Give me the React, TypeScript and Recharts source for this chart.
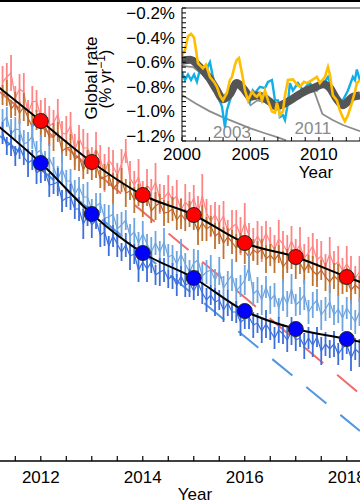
import React from 'react'
import {
  ComposedChart,
  Line,
  XAxis,
  YAxis,
  ErrorBar,
  ReferenceLine,
  ReferenceDot,
} from 'recharts'

const FONT = '"Liberation Sans", Arial, Helvetica, sans-serif'

// ---- main panel: monthly series (index units), first month Apr 2011
const MONTH0 = 2011.25

const pinkVals = [
  37.9, 38.4, 38.8, 36.3, 37.2, 36.9, 34.8, 35.9, 36.0, 34.4,
  34.9, 33.5, 33.8, 34.7, 32.8, 32.7, 33.5, 31.1, 32.3, 31.3,
  31.3, 30.2, 31.2, 30.2, 28.8, 30.1, 29.5, 28.6, 29.7, 31.0,
  28.3, 27.6, 28.4, 26.7, 27.6, 27.0, 27.9, 26.2, 26.3, 26.9,
  26.1, 26.5, 25.1, 25.9, 25.4, 26.3, 24.8, 26.5, 24.8, 24.0,
  24.6, 23.8, 24.5, 22.9, 23.4, 23.7, 22.5, 23.8, 22.5, 21.7,
  22.5, 21.7, 22.8, 21.8, 21.2, 22.2, 21.7, 20.9, 22.0, 21.0,
  21.6, 20.3, 20.8, 21.5, 20.1, 20.5, 19.5, 20.7, 19.6, 19.9,
  19.0, 19.7, 19.0, 18.3, 18.9,
]
const pinkErr = [
  1.6, 1.4, 1.8, 1.2, 1.5, 1.9, 1.3, 1.6, 1.1, 1.7,
  1.4, 2.0, 1.3, 1.5, 1.2, 1.8, 1.4, 1.6, 1.3, 1.9,
  1.5, 1.2, 1.7, 1.4, 1.9, 1.3, 1.6, 1.2, 1.5, 1.2,
  1.7, 1.4, 1.8, 1.3, 1.6, 1.2, 1.9, 1.5, 1.3, 1.7,
  1.4, 1.6, 1.2, 1.8, 1.5, 1.3, 1.7, 2.2, 1.4, 1.6,
  1.3, 1.8, 1.5, 1.2, 1.7, 1.4, 1.9, 2.0, 1.3, 1.6,
  1.5, 1.8, 1.2, 1.6, 1.4, 1.9, 1.3, 1.7, 1.5, 1.2,
  1.8, 1.4, 1.6, 1.3, 2.1, 1.5, 1.2, 1.7, 1.4, 1.6,
  1.3, 1.8, 1.5, 1.2, 1.6,
]
const brownVals = [
  36.6, 36.8, 35.2, 35.7, 34.8, 35.4, 34.3, 33.4, 34.1, 33.2,
  33.5, 32.4, 32.4, 32.9, 31.0, 31.3, 31.4, 30.2, 30.5, 29.1,
  29.9, 29.1, 29.7, 28.2, 28.4, 28.6, 27.2, 27.7, 28.1, 26.8,
  27.0, 26.1, 26.6, 25.9, 26.5, 25.0, 25.5, 25.8, 24.8, 24.9,
  25.2, 24.1, 24.7, 24.1, 24.7, 24.0, 23.0, 23.8, 23.2, 23.5,
  22.5, 22.8, 21.8, 22.4, 21.9, 21.3, 21.8, 21.0, 20.4, 21.1,
  20.8, 21.2, 20.2, 20.6, 20.1, 20.7, 19.4, 20.0, 20.2, 19.6,
  19.8, 19.0, 19.7, 19.0, 18.6, 19.1, 18.4, 17.9, 18.5, 18.1,
  17.7, 18.1, 17.1, 17.6, 17.2,
]
const brownErr = [
  1.0, 1.3, 0.9, 1.2, 1.1, 1.4, 0.8, 1.2, 1.0, 1.3,
  1.1, 0.9, 1.4, 1.0, 1.2, 0.8, 1.3, 1.1, 1.5, 0.9,
  1.2, 1.0, 1.4, 0.9, 1.3, 1.1, 1.6, 1.0, 1.2, 1.4,
  0.9, 1.3, 1.1, 1.5, 1.0, 1.2, 1.4, 0.9, 1.3, 1.1,
  1.2, 1.0, 1.5, 1.1, 1.3, 0.9, 1.4, 1.8, 1.2, 1.0,
  1.3, 1.1, 1.6, 0.9, 1.2, 1.4, 1.0, 1.3, 1.5, 1.1,
  1.2, 1.0, 1.4, 1.1, 1.3, 0.9, 1.6, 1.2, 1.0, 1.4,
  1.1, 1.3, 0.9, 1.5, 1.2, 1.0, 1.4, 1.1, 1.3, 1.6,
  1.0, 1.2, 1.4, 0.9, 1.3,
]
const lightBlueVals = [
  33.9, 34.4, 32.7, 33.2, 33.1, 31.7, 31.9, 32.5, 30.8, 31.1,
  29.9, 30.3, 29.4, 28.2, 29.2, 28.0, 28.0, 26.7, 27.4, 26.4,
  26.4, 25.1, 25.5, 25.8, 24.3, 24.4, 24.7, 23.2, 23.6, 24.1,
  22.5, 22.9, 21.8, 22.7, 21.7, 20.9, 21.8, 20.9, 21.9, 20.4,
  20.6, 19.7, 20.7, 19.7, 18.9, 19.8, 20.1, 18.5, 18.9, 19.1,
  18.1, 19.0, 17.3, 18.0, 18.6, 17.0, 17.5, 18.1, 19.4, 16.7,
  17.1, 16.1, 17.4, 16.1, 16.6, 15.3, 16.6, 15.7, 17.2, 15.6,
  16.0, 16.6, 14.9, 15.6, 16.1, 14.6, 15.2, 15.9, 14.6, 15.2,
  14.3, 15.3, 14.6, 13.9, 14.9,
]
const lightBlueErr = [
  1.3, 1.0, 1.5, 1.2, 1.1, 1.4, 1.0, 1.3, 1.2, 1.5,
  1.1, 1.4, 1.0, 1.3, 1.5, 1.1, 1.2, 1.4, 1.0, 1.3,
  1.5, 1.1, 1.3, 1.0, 1.4, 1.2, 1.1, 1.5, 1.3, 1.0,
  1.2, 1.4, 1.1, 1.3, 1.0, 1.5, 1.2, 1.1, 1.4, 1.3,
  1.0, 1.3, 1.5, 1.1, 1.2, 1.4, 1.0, 1.3, 1.2, 1.5,
  1.1, 1.4, 1.2, 1.0, 1.6, 1.3, 1.1, 1.5, 1.4, 1.2,
  1.3, 1.5, 1.1, 1.4, 1.2, 1.0, 1.6, 1.3, 1.5, 1.1,
  1.4, 1.5, 1.2, 1.3, 1.1, 1.5, 1.2, 1.6, 1.0, 1.4,
  1.3, 1.1, 1.5, 1.2, 1.4,
]
const blueVals = [
  32.8, 31.5, 31.8, 30.5, 31.4, 30.4, 29.8, 30.1, 28.8, 29.1,
  28.9, 27.6, 27.7, 27.9, 26.0, 26.3, 26.4, 25.2, 25.2, 23.7,
  24.5, 23.6, 24.1, 22.6, 22.9, 21.5, 22.5, 21.7, 20.9, 21.6,
  20.5, 20.7, 19.1, 19.9, 19.2, 19.9, 18.6, 18.9, 19.1, 18.2,
  18.5, 17.6, 18.5, 17.6, 17.8, 17.0, 17.8, 16.8, 16.1, 16.6,
  15.9, 16.1, 15.1, 15.8, 14.9, 14.9, 13.9, 14.2, 14.4, 13.6,
  13.8, 13.0, 13.7, 13.0, 12.3, 13.1, 12.7, 12.1, 13.0, 12.1,
  12.3, 11.5, 12.3, 11.6, 12.4, 11.0, 11.7, 11.2, 11.7, 10.7,
  11.3, 11.7, 10.3, 11.2, 10.8,
]
const blueErr = [
  1.1, 0.9, 1.3, 1.0, 1.2, 0.8, 1.4, 1.0, 1.1, 1.3,
  0.9, 1.2, 1.0, 1.4, 1.1, 0.9, 1.3, 1.0, 1.2, 1.5,
  1.0, 1.3, 0.9, 1.2, 1.4, 1.0, 1.1, 1.3, 0.9, 1.2,
  1.4, 1.0, 1.2, 0.9, 1.3, 1.1, 1.0, 1.4, 1.2, 0.9,
  1.3, 1.1, 1.0, 1.2, 1.4, 0.9, 1.3, 1.1, 1.2, 1.0,
  1.4, 1.0, 1.2, 1.3, 0.9, 1.1, 1.4, 1.0, 1.2, 1.3,
  1.0, 1.2, 1.4, 0.9, 1.1, 1.3, 1.0, 1.2, 1.4, 1.1,
  0.9, 1.3, 1.1, 1.2, 1.0, 1.4, 1.2, 0.9, 1.3, 1.1,
  1.2, 1.0, 1.3, 1.1, 1.4,
]

// annual fitted curves (black) and the big dots
const trendYears = [2011, 2012, 2013, 2014, 2015, 2016, 2017, 2018, 2019]
const redTrend = [38.1, 34.0, 29.9, 26.6, 24.6, 21.8, 20.4, 18.4, 16.5]
const blueTrend = [34.2, 29.8, 24.7, 20.8, 18.3, 15.0, 13.2, 12.2, 11.1]
const dotYears = [2012, 2013, 2014, 2015, 2016, 2017, 2018]

// early-period linear fits, extrapolated (dashed)
const fitYears = [2011.2, 2018.26]
const redFit = [36.9, 6.7]
const blueFit = [32.5, 3.0]

const mainTicks = [2011.5, 2012, 2012.5, 2013, 2013.5, 2014, 2014.5, 2015, 2015.5, 2016, 2016.5, 2017, 2017.5, 2018]

// ---- inset: global rate (% per yr)
const yellowRate: [number, number][] = [
  [2000.0, -0.55], [2000.22, -0.5], [2000.44, -0.39], [2000.66, -0.37], [2000.88, -0.4],
  [2001.02, -0.5], [2001.17, -0.61], [2001.53, -0.65], [2001.75, -0.62], [2002.04, -0.72],
  [2002.34, -0.76], [2002.55, -0.8], [2002.77, -0.87], [2002.99, -0.91], [2003.28, -0.85],
  [2003.5, -0.745], [2003.65, -0.72], [2003.87, -0.62], [2004.01, -0.58], [2004.16, -0.566],
  [2004.38, -0.69], [2004.6, -0.83], [2004.82, -0.91], [2005.11, -0.84], [2005.33, -0.87],
  [2005.47, -0.88], [2005.69, -0.85], [2005.84, -0.91], [2006.06, -0.83], [2006.28, -0.91],
  [2006.57, -1.0], [2006.79, -1.01], [2006.93, -0.93], [2007.15, -1.03], [2007.37, -1.0],
  [2007.52, -0.87], [2007.74, -0.745], [2008.1, -0.74], [2008.47, -0.79], [2008.61, -0.8],
  [2008.9, -0.76], [2009.12, -0.77], [2009.49, -0.745], [2009.85, -0.72], [2010.07, -0.77],
  [2010.44, -0.72], [2010.66, -0.64], [2010.8, -0.7], [2011.02, -0.87], [2011.31, -0.91],
  [2011.53, -0.99], [2011.75, -1.05], [2011.9, -1.08], [2012.12, -1.03], [2012.41, -0.93],
  [2012.63, -0.84], [2012.77, -0.77], [2012.99, -0.745],
]
const cyanRate: [number, number][] = [
  [2000.0, -0.68], [2000.22, -0.745], [2000.44, -0.7], [2000.66, -0.745], [2000.88, -0.7],
  [2001.09, -0.76], [2001.31, -0.66], [2001.53, -0.7], [2001.68, -0.72], [2001.9, -0.63],
  [2002.04, -0.6], [2002.26, -0.72], [2002.48, -0.83], [2002.63, -0.88], [2002.92, -0.96],
  [2003.14, -1.13], [2003.28, -0.99], [2003.5, -0.91], [2003.72, -0.83], [2003.87, -0.785],
  [2004.23, -0.77], [2004.6, -0.85], [2004.96, -0.92], [2005.18, -0.83], [2005.33, -0.85],
  [2005.69, -0.8], [2006.06, -0.81], [2006.28, -0.76], [2006.57, -0.745], [2006.79, -0.91],
  [2007.01, -0.91], [2007.15, -1.045], [2007.37, -1.03], [2007.52, -1.07], [2007.74, -0.93],
  [2007.88, -0.77], [2008.1, -0.83], [2008.47, -0.77], [2008.83, -0.83], [2009.12, -0.79],
  [2009.34, -0.77], [2009.63, -0.81], [2009.85, -0.83], [2010.07, -0.79], [2010.29, -0.785],
  [2010.66, -0.72], [2011.02, -0.83], [2011.39, -0.93], [2011.75, -0.91], [2012.12, -0.83],
  [2012.48, -0.72], [2012.63, -0.745], [2012.77, -0.66], [2012.99, -0.745],
]
const bandRate: [number, number][] = [
  [2000.0, -0.59], [2000.6, -0.58], [2001.3, -0.64], [2002.0, -0.73], [2002.5, -0.82],
  [2003.0, -0.9], [2003.5, -0.86], [2004.0, -0.77], [2004.45, -0.81], [2005.0, -0.88],
  [2005.5, -0.87], [2005.9, -0.88], [2006.4, -0.92], [2006.9, -0.96], [2007.4, -0.94],
  [2007.9, -0.91], [2008.6, -0.86], [2009.1, -0.83], [2009.6, -0.81], [2010.3, -0.78],
  [2010.8, -0.81], [2011.3, -0.9], [2011.75, -0.95], [2012.1, -0.92], [2012.5, -0.88],
  [2013.0, -0.87],
]
const grayTrack: [number, number][] = [
  [2000.0, -0.63], [2000.8, -0.64], [2001.5, -0.7], [2002.2, -0.78], [2003.0, -0.9],
  [2003.4, -0.88], [2004.0, -0.78], [2004.5, -0.85], [2005.0, -0.95], [2005.5, -0.91],
  [2006.2, -0.93], [2006.9, -0.97], [2007.6, -0.95], [2008.3, -0.88], [2009.0, -0.84],
  [2009.6, -0.82], [2010.3, -0.79], [2010.8, -0.82], [2011.4, -0.93], [2011.8, -0.97],
  [2012.3, -0.91], [2013.0, -0.89],
]
const proj2003: [number, number][] = [
  [2000.0, -0.867], [2001.0, -0.935], [2002.0, -0.997], [2003.0, -1.048], [2004.0, -1.093],
  [2005.0, -1.137], [2006.0, -1.175], [2007.0, -1.211], [2007.6, -1.235],
]
const proj2011: [number, number][] = [
  [2009.6, -0.82], [2010.25, -1.02], [2011.0, -1.07], [2011.75, -1.11], [2013.0, -1.16],
]

const insetYearTicks = [2000, 2001, 2002, 2003, 2004, 2005, 2006, 2007, 2008, 2009, 2010, 2011, 2012, 2013]
const insetRateTicks = Array.from({ length: 28 }, (_, i) => +(-1.24 + i * 0.04).toFixed(2))

const monthly = (vals: number[], errs: number[]) =>
  vals.map((v, i) => ({ t: MONTH0 + i / 12, v, e: errs[i] }))
const pairs = (years: number[], vals: number[]) => years.map((t, i) => ({ t, v: vals[i] }))
const pts = (arr: [number, number][]) => arr.map(([t, v]) => ({ t, v }))

const tickStyle = { fill: '#000', fontSize: 17, fontFamily: FONT }

function MainPanel() {
  const redDots = pairs(trendYears, redTrend).filter(d => dotYears.includes(d.t))
  const blueDots = pairs(trendYears, blueTrend).filter(d => dotYears.includes(d.t))
  return (
    <ComposedChart width={360} height={504} margin={{ top: 1, right: 0, bottom: 0, left: 0 }}>
      <XAxis
        type="number"
        dataKey="t"
        domain={[2011.2, 2018.26]}
        allowDataOverflow
        ticks={mainTicks}
        interval={0}
        height={43}
        tickSize={-5}
        tickMargin={15}
        tick={tickStyle}
        tickFormatter={(v: number) => (v % 2 === 0 ? String(v) : '')}
        axisLine={{ stroke: '#000', strokeWidth: 1.5 }}
        tickLine={{ stroke: '#000', strokeWidth: 1.2 }}
      />
      <YAxis hide width={0} type="number" domain={[0, 46]} allowDataOverflow />
      <ReferenceLine y={46} stroke="#000" strokeWidth={2} />

      <Line data={pairs(fitYears, redFit)} dataKey="v" stroke="#f26b6b" strokeWidth={2} strokeDasharray="26 18" dot={false} isAnimationActive={false} />
      <Line data={pairs(fitYears, blueFit)} dataKey="v" stroke="#4f97e0" strokeWidth={2} strokeDasharray="26 18" dot={false} isAnimationActive={false} />

      <Line data={monthly(pinkVals, pinkErr)} dataKey="v" stroke="#ff8585" strokeWidth={1.2} dot={false} isAnimationActive={false}>
        <ErrorBar dataKey="e" width={0} stroke="#ff8585" strokeWidth={1.8} direction="y" />
      </Line>
      <Line data={monthly(brownVals, brownErr)} dataKey="v" stroke="#b8662c" strokeWidth={1.2} dot={false} isAnimationActive={false}>
        <ErrorBar dataKey="e" width={0} stroke="#c0722f" strokeWidth={1.8} direction="y" />
      </Line>
      <Line data={monthly(lightBlueVals, lightBlueErr)} dataKey="v" stroke="#6ea5e0" strokeWidth={1.2} dot={false} isAnimationActive={false}>
        <ErrorBar dataKey="e" width={0} stroke="#6ea5e0" strokeWidth={1.8} direction="y" />
      </Line>
      <Line data={monthly(blueVals, blueErr)} dataKey="v" stroke="#3c6fdc" strokeWidth={1.2} dot={false} isAnimationActive={false}>
        <ErrorBar dataKey="e" width={0} stroke="#3c6fdc" strokeWidth={1.8} direction="y" />
      </Line>

      <Line data={pairs(trendYears, redTrend)} dataKey="v" type="monotone" stroke="#000" strokeWidth={2} dot={false} isAnimationActive={false} />
      <Line data={pairs(trendYears, blueTrend)} dataKey="v" type="monotone" stroke="#000" strokeWidth={2} dot={false} isAnimationActive={false} />
      <Line data={redDots} dataKey="v" stroke="none" dot={{ r: 7.5, fill: '#ff0000', stroke: '#222', strokeWidth: 1 }} isAnimationActive={false} />
      <Line data={blueDots} dataKey="v" stroke="none" dot={{ r: 7.5, fill: '#0000ff', stroke: '#222', strokeWidth: 1 }} isAnimationActive={false} />
    </ComposedChart>
  )
}

function InsetPanel() {
  return (
    <ComposedChart width={280} height={185} margin={{ top: 8, right: 0, bottom: 0, left: 0 }}>
      <XAxis
        type="number"
        dataKey="t"
        domain={[2000, 2013]}
        allowDataOverflow
        ticks={insetYearTicks}
        interval={0}
        height={44}
        tickSize={-4}
        tickMargin={11}
        tick={tickStyle}
        tickFormatter={(v: number) => (v % 5 === 0 ? String(v) : '')}
        axisLine={{ stroke: '#000' }}
        tickLine={{ stroke: '#000' }}
      />
      <YAxis
        type="number"
        domain={[-1.24, -0.16]}
        allowDataOverflow
        ticks={insetRateTicks}
        interval={0}
        width={102}
        tickSize={-4}
        tickMargin={11}
        tick={tickStyle}
        tickFormatter={(v: number) =>
          Math.round(Math.abs(v) * 100) % 20 === 0 ? `\u2212${Math.abs(v).toFixed(1)}%` : ''
        }
        axisLine={{ stroke: '#000' }}
        tickLine={{ stroke: '#000' }}
      />
      <ReferenceLine y={-0.16} stroke="#333" strokeWidth={1} />

      <Line data={pts(proj2003)} dataKey="v" stroke="#8c8c8c" strokeWidth={1.8} dot={false} isAnimationActive={false} />
      <Line data={pts(proj2011)} dataKey="v" stroke="#8c8c8c" strokeWidth={1.8} dot={false} isAnimationActive={false} />
      <Line data={pts(grayTrack)} dataKey="v" stroke="#8c8c8c" strokeWidth={1.6} dot={false} isAnimationActive={false} />
      <Line data={pts(cyanRate)} dataKey="v" stroke="#12aee8" strokeWidth={2.4} dot={false} isAnimationActive={false} />
      <Line data={pts(bandRate)} dataKey="v" type="monotone" stroke="#555" strokeWidth={8} dot={false} isAnimationActive={false} />
      <Line data={pts(yellowRate)} dataKey="v" stroke="#ffbe00" strokeWidth={2.6} dot={false} isAnimationActive={false} />

      <ReferenceDot x={2003.65} y={-1.167} r={0} stroke="none" label={{ value: '2003', position: 'center', fill: '#8a8a8a', fontSize: 17, fontFamily: FONT }} />
      <ReferenceDot x={2009.56} y={-1.131} r={0} stroke="none" label={{ value: '2011', position: 'center', fill: '#8a8a8a', fontSize: 17, fontFamily: FONT }} />
    </ComposedChart>
  )
}

export default function App() {
  return (
    <div style={{ position: 'absolute', left: 0, top: 0, width: 360, height: 504, background: '#fff', overflow: 'hidden' }}>
      <div style={{ position: 'absolute', left: 0, top: 0 }}>
        <MainPanel />
      </div>
      <div style={{ position: 'absolute', left: 80, top: 0 }}>
        <InsetPanel />
      </div>
      <svg width={360} height={504} style={{ position: 'absolute', left: 0, top: 0, pointerEvents: 'none' }}>
        <g fontFamily={FONT} fontSize={17} fill="#000">
          <text transform="translate(97,78) rotate(-90)" textAnchor="middle">Global rate</text>
          <text transform="translate(111,79) rotate(-90)" textAnchor="middle">
            (% yr<tspan dy={-6} fontSize={12}>{'\u22121'}</tspan><tspan dy={6}>)</tspan>
          </text>
          <text x={316} y={178} textAnchor="middle">Year</text>
          <text x={195} y={500} textAnchor="middle">Year</text>
        </g>
      </svg>
    </div>
  )
}
